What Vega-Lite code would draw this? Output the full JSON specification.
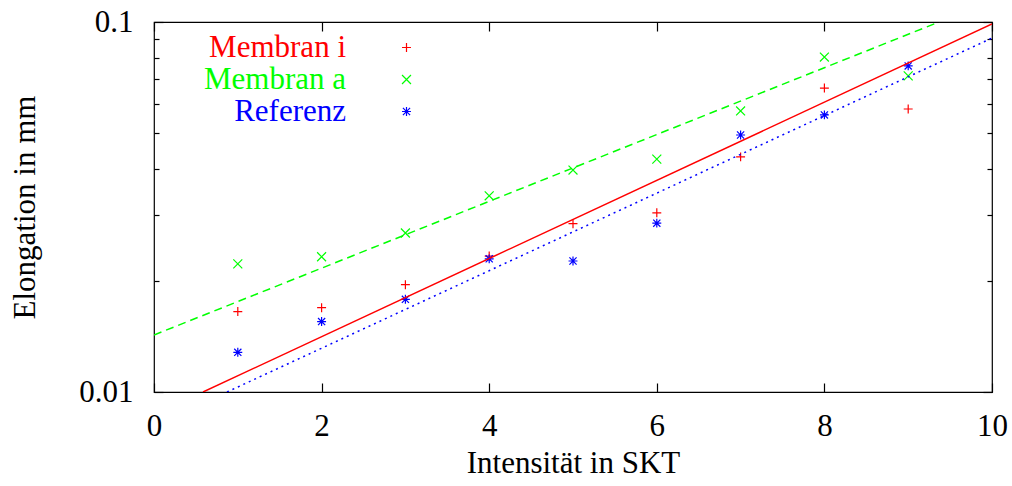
{
  "$schema": "https://vega.github.io/schema/vega-lite/v6.json",
  "width": 838,
  "height": 370,
  "autosize": "none",
  "padding": {"left": 154, "top": 22, "right": 20, "bottom": 94},
  "background": "white",
  "config": {
    "font": "Liberation Serif",
    "view": {"stroke": "#000000", "strokeWidth": 1.2},
    "legend": {"labelFont": "Liberation Serif", "labelFontSize": 31},
    "axis": {
      "domain": false,
      "grid": false,
      "tickColor": "#000000",
      "tickWidth": 1.2,
      "labelFont": "Liberation Serif",
      "labelFontSize": 31,
      "labelColor": "#000000",
      "labelFlush": false,
      "titleFont": "Liberation Serif",
      "titleFontSize": 31,
      "titleFontWeight": "normal",
      "titleColor": "#000000"
    }
  },
  "datasets": {
    "measured": [
      {"skt": 1, "elongation": 0.0165, "series": "Membran i"},
      {"skt": 2, "elongation": 0.0169, "series": "Membran i"},
      {"skt": 3, "elongation": 0.0195, "series": "Membran i"},
      {"skt": 4, "elongation": 0.0233, "series": "Membran i"},
      {"skt": 5, "elongation": 0.0285, "series": "Membran i"},
      {"skt": 6, "elongation": 0.0305, "series": "Membran i"},
      {"skt": 7, "elongation": 0.0432, "series": "Membran i"},
      {"skt": 8, "elongation": 0.0663, "series": "Membran i"},
      {"skt": 9, "elongation": 0.0582, "series": "Membran i"},
      {"skt": 1, "elongation": 0.0222, "series": "Membran a"},
      {"skt": 2, "elongation": 0.0232, "series": "Membran a"},
      {"skt": 3, "elongation": 0.0269, "series": "Membran a"},
      {"skt": 4, "elongation": 0.0339, "series": "Membran a"},
      {"skt": 5, "elongation": 0.0398, "series": "Membran a"},
      {"skt": 6, "elongation": 0.0426, "series": "Membran a"},
      {"skt": 7, "elongation": 0.0575, "series": "Membran a"},
      {"skt": 8, "elongation": 0.0804, "series": "Membran a"},
      {"skt": 9, "elongation": 0.0715, "series": "Membran a"},
      {"skt": 1, "elongation": 0.0128, "series": "Referenz"},
      {"skt": 2, "elongation": 0.0155, "series": "Referenz"},
      {"skt": 3, "elongation": 0.0178, "series": "Referenz"},
      {"skt": 4, "elongation": 0.0229, "series": "Referenz"},
      {"skt": 5, "elongation": 0.0226, "series": "Referenz"},
      {"skt": 6, "elongation": 0.0286, "series": "Referenz"},
      {"skt": 7, "elongation": 0.0495, "series": "Referenz"},
      {"skt": 8, "elongation": 0.0561, "series": "Referenz"},
      {"skt": 9, "elongation": 0.0761, "series": "Referenz"}
    ],
    "fit_i": [
      {"skt": 0.585, "elongation": 0.01, "series": "Membran i"},
      {"skt": 10, "elongation": 0.0988, "series": "Membran i"}
    ],
    "fit_a": [
      {"skt": 0, "elongation": 0.01426, "series": "Membran a"},
      {"skt": 9.368, "elongation": 0.1, "series": "Membran a"}
    ],
    "fit_ref": [
      {"skt": 0.871, "elongation": 0.01, "series": "Referenz"},
      {"skt": 10, "elongation": 0.0905, "series": "Referenz"}
    ]
  },
  "layer": [
    {
      "data": {"name": "measured"},
      "mark": {"type": "point", "filled": false, "size": 80, "strokeWidth": 1.2, "opacity": 1},
      "encoding": {
        "x": {"field": "skt", "type": "quantitative",
              "scale": {"domain": [0, 10], "nice": false, "zero": false},
              "axis": {"orient": "bottom", "values": [0, 2, 4, 6, 8, 10], "tickSize": -9, "labelPadding": 28,
                       "title": "Intensität in SKT", "titlePadding": 7}},
        "y": {"field": "elongation", "type": "quantitative",
              "scale": {"type": "log", "domain": [0.01, 0.1], "nice": false},
              "axis": {"orient": "left", "values": [0.01, 0.1], "tickSize": -9, "labelPadding": 30,
                       "labelExpr": "datum.value < 0.05 ? '0.01' : '0.1'",
                       "title": "Elongation in mm", "titlePadding": 37}},
        "color": {"field": "series", "type": "nominal",
                  "scale": {"domain": ["Membran i", "Membran a", "Referenz"], "range": ["#ff0000", "#00ff00", "#0000ff"]},
                  "legend": {"orient": "none", "legendX": 237, "legendY": 10, "title": null,
                             "labelFontSize": 31, "labelFont": "Liberation Serif", "labelAlign": "right",
                             "labelColor": {"expr": "scale('color', datum.value)"},
                             "labelOffset": -76, "symbolSize": 80, "symbolStrokeWidth": 1.2, "rowPadding": 0}},
        "shape": {"field": "series", "type": "nominal",
                  "scale": {"domain": ["Membran i", "Membran a", "Referenz"],
                            "range": ["M-1,0L1,0M0,-1L0,1", "M-1,-1L1,1M-1,1L1,-1", "M-1,0L1,0M0,-1L0,1M-0.8,-0.8L0.8,0.8M-0.8,0.8L0.8,-0.8"]}}
      }
    },
    {
      "data": {"name": "fit_i"},
      "mark": {"type": "line", "strokeWidth": 1.5, "clip": true},
      "encoding": {
        "x": {"field": "skt", "type": "quantitative",
              "axis": {"orient": "top", "values": [0, 2, 4, 6, 8, 10], "labels": false, "title": null, "tickSize": -9}},
        "y": {"field": "elongation", "type": "quantitative",
              "axis": {"orient": "right", "values": [0.01, 0.1], "labels": false, "title": null, "tickSize": -9}},
        "color": {"field": "series", "type": "nominal"}
      }
    },
    {
      "data": {"name": "fit_a"},
      "mark": {"type": "line", "strokeWidth": 1.5, "strokeDash": [8, 5], "clip": true},
      "encoding": {
        "x": {"field": "skt", "type": "quantitative", "axis": null},
        "y": {"field": "elongation", "type": "quantitative",
              "axis": {"orient": "left", "values": [0.02, 0.03, 0.04, 0.05, 0.06, 0.07, 0.08, 0.09], "labels": false, "title": null, "tickSize": -5}},
        "color": {"field": "series", "type": "nominal"}
      }
    },
    {
      "data": {"name": "fit_ref"},
      "mark": {"type": "line", "strokeWidth": 1.5, "strokeDash": [2, 4], "clip": true},
      "encoding": {
        "x": {"field": "skt", "type": "quantitative", "axis": null},
        "y": {"field": "elongation", "type": "quantitative",
              "axis": {"orient": "right", "values": [0.02, 0.03, 0.04, 0.05, 0.06, 0.07, 0.08, 0.09], "labels": false, "title": null, "tickSize": -5}},
        "color": {"field": "series", "type": "nominal"}
      }
    }
  ],
  "resolve": {"axis": {"x": "independent", "y": "independent"}}
}
